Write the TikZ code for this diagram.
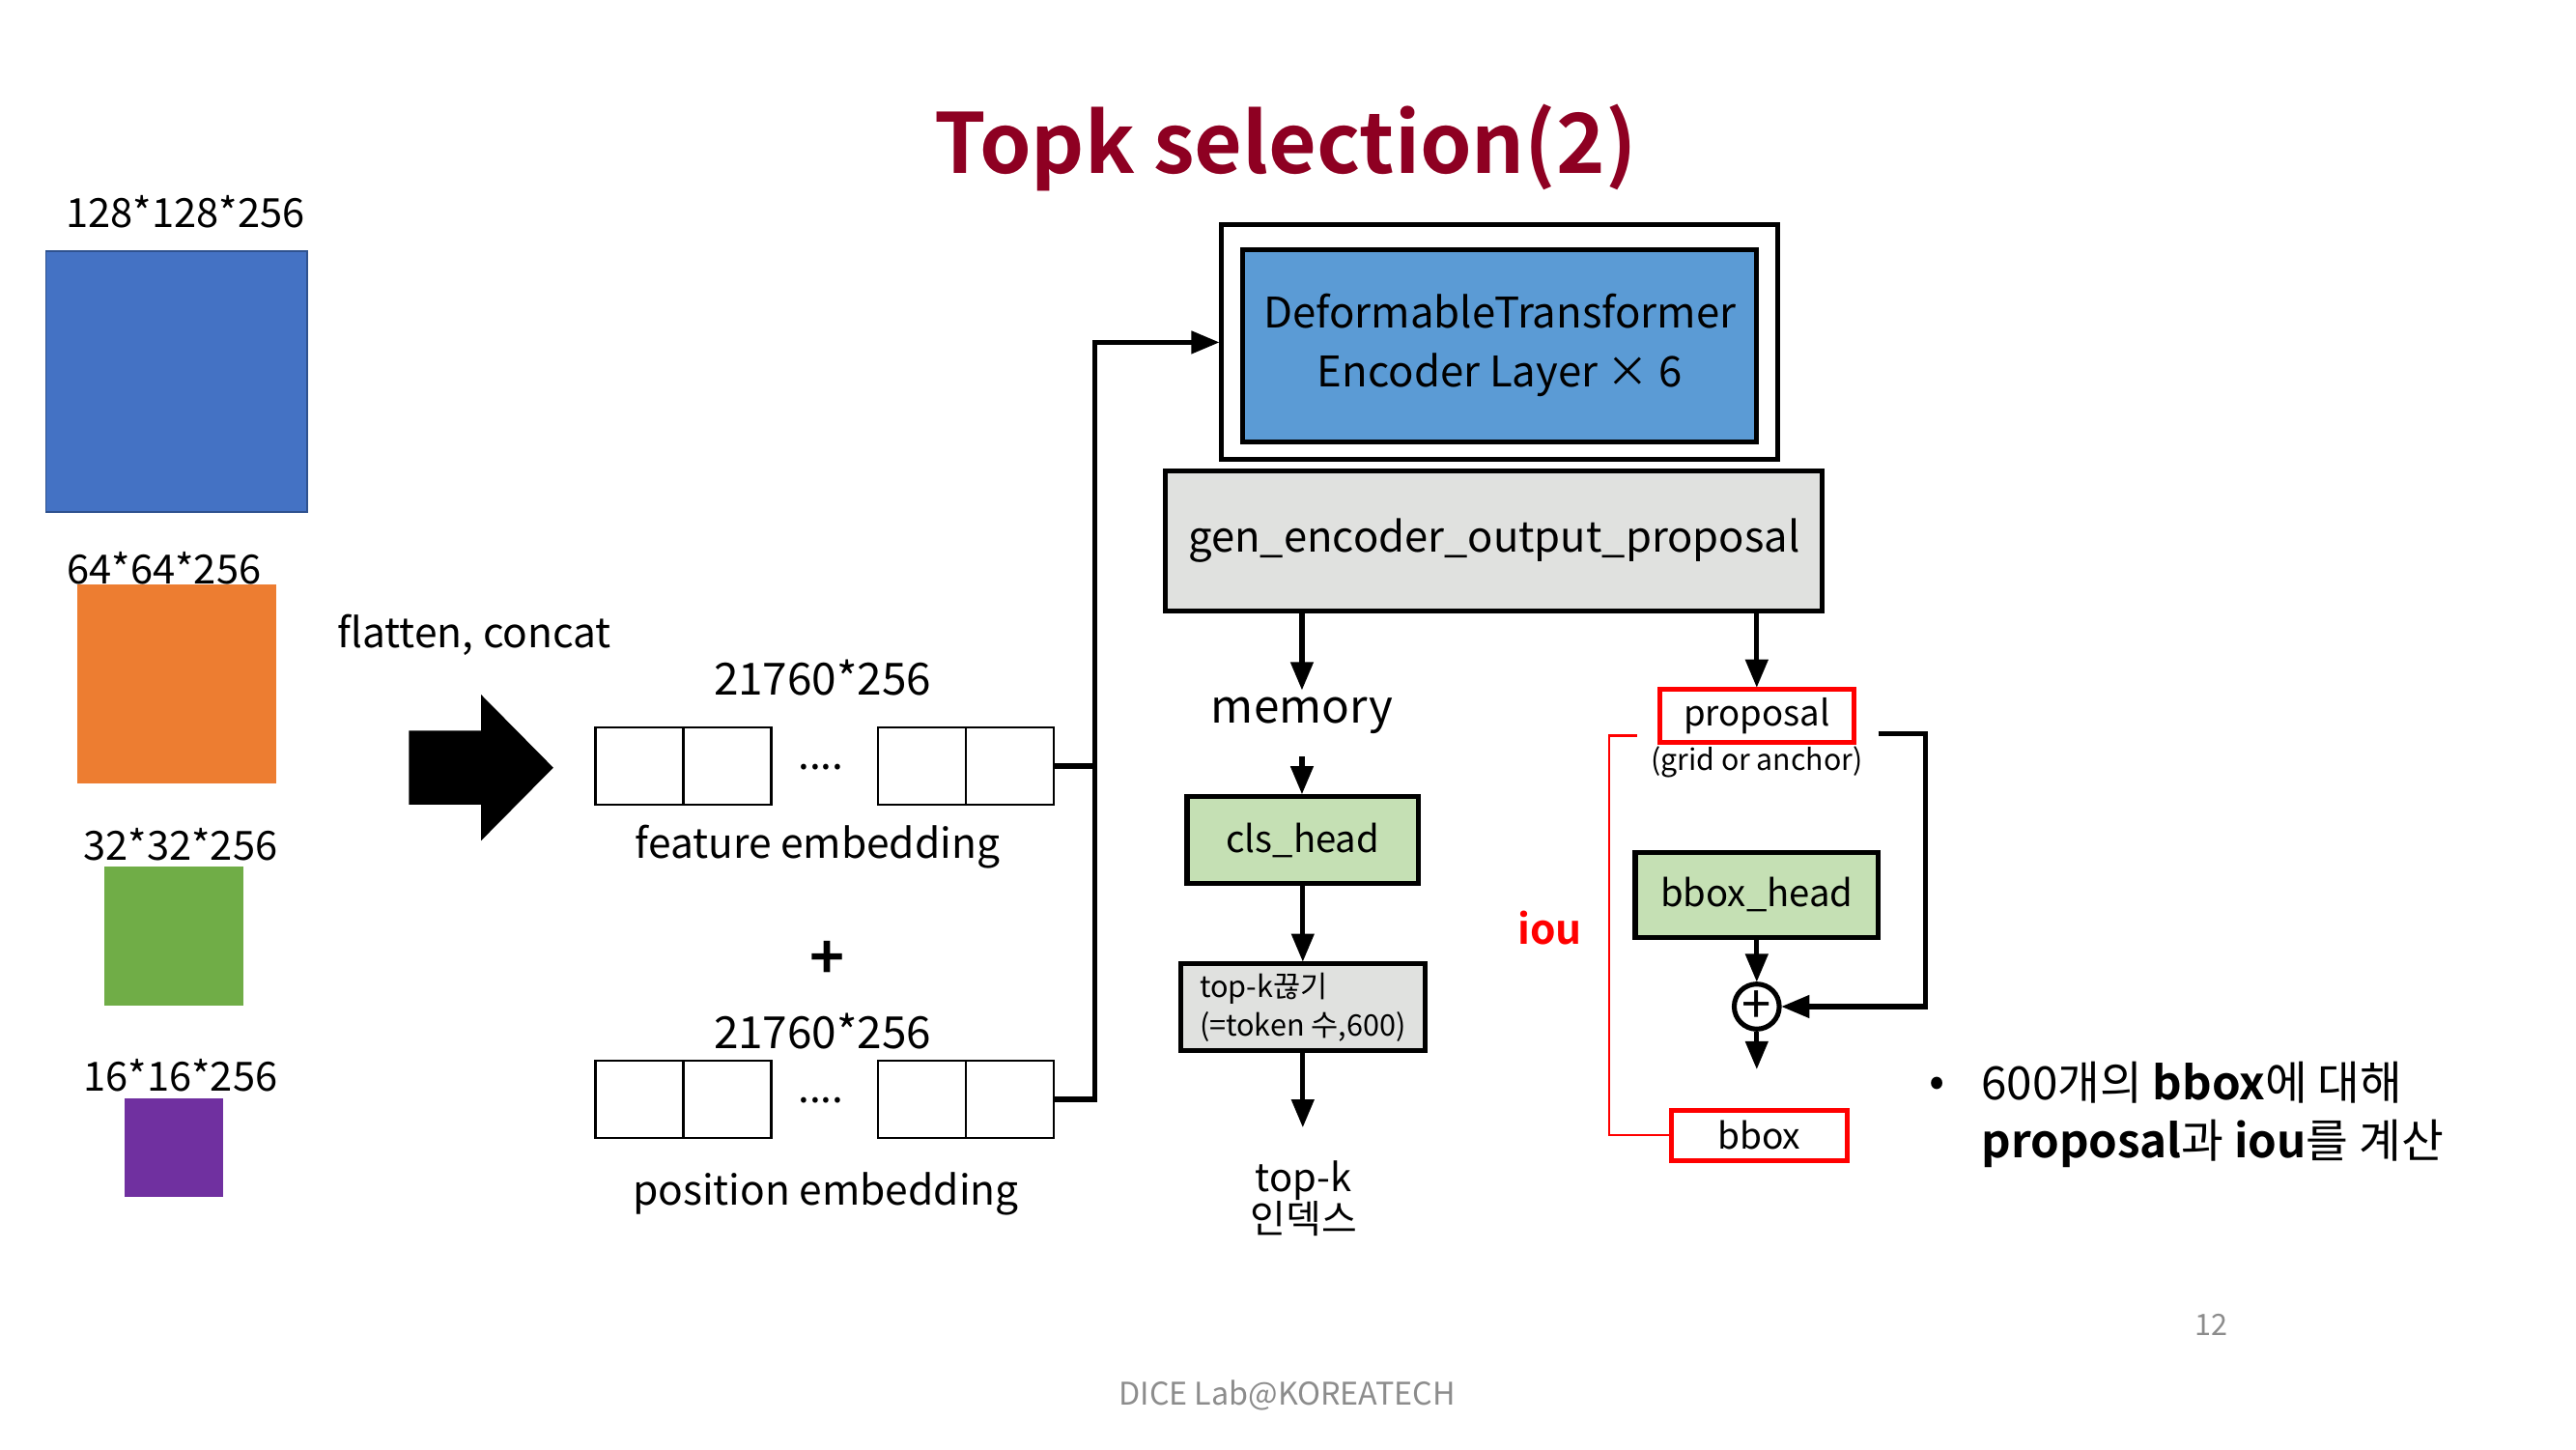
\documentclass[tikz,border=0pt]{standalone}
\usepackage{fontspec}
\setmainfont{Noto Sans CJK KR}[BoldFont={Noto Sans CJK KR Bold}]
\usetikzlibrary{arrows,positioning,calc}

\definecolor{titlered}{HTML}{8E0022}
\definecolor{mapblue}{HTML}{4472C4}
\definecolor{mapedge}{HTML}{2F528F}
\definecolor{maporange}{HTML}{ED7D31}
\definecolor{mapgreen}{HTML}{70AD47}
\definecolor{mappurple}{HTML}{7030A0}
\definecolor{encblue}{HTML}{5B9BD5}
\definecolor{headgreen}{HTML}{C5E0B4}
\definecolor{boxgray}{HTML}{E0E1DF}
\definecolor{footgray}{HTML}{8C8C8C}

\begin{document}
\begin{tikzpicture}[
        x=1pt, y=-1pt, >=triangle 45, line width=3pt
    ]

    \tikzstyle{block} = [rectangle,draw,line width=3pt,inner sep=0pt]
    \tikzstyle{cell} = [rectangle,draw,line width=1.6pt,minimum width=53.5pt,minimum height=47pt,outer sep=0pt]
    \tikzstyle{redbox} = [rectangle,draw=red,line width=3pt,inner sep=0pt]
    \tikzstyle{lbl} = [font=\fontsize{25}{30}\selectfont]
    \tikzstyle{flow} = [->,line width=3pt]

    \useasboundingbox (0,0) rectangle (1569,882.6);

    \node[font=\bfseries\fontsize{50.5}{56}\selectfont, text=titlered] (title) at (783,90) {Topk selection(2)};

    % feature maps
    \node[font=\fontsize{24.5}{30}\selectfont] (d1) at (113,129) {128*128*256};
    \node[fill=mapblue, draw=mapedge, line width=1pt, minimum size=159pt] (map1) at (107.5,232.5) {};
    \node[font=\fontsize{24.5}{30}\selectfont] (d2) at (100,346) {64*64*256};
    \node[fill=maporange, minimum size=121pt] (map2) at (107.5,416.5) {};
    \node[font=\fontsize{24.5}{30}\selectfont] (d3) at (110,514) {32*32*256};
    \node[fill=mapgreen, minimum size=85pt] (map3) at (106,570) {};
    \node[font=\fontsize{24.5}{30}\selectfont] (d4) at (110,655) {16*16*256};
    \node[fill=mappurple, minimum size=60pt] (map4) at (106,699) {};

    \node[lbl] (flat) at (289,387) {flatten, concat};
    \fill (249,445) -- (293,445) -- (293,423) -- (337,467.5) -- (293,512) -- (293,490) -- (249,490) -- cycle;

    % embeddings
    \node[font=\fontsize{27}{30}\selectfont] (fdim) at (501,413) {21760*256};
    \node[cell] (f1) at (389.5,466.5) {};
    \node[cell, right=0pt of f1] (f2) {};
    \node[cell] (f3) at (561.5,466.5) {};
    \node[cell, right=0pt of f3] (f4) {};
    \node[lbl] (fdots) at (500,467) {....};
    \node[lbl] (fname) at (498,516) {feature embedding};

    \node[font=\bfseries\fontsize{36}{36}\selectfont] (sum) at (504,585) {+};

    \node[font=\fontsize{27}{30}\selectfont] (pdim) at (501,628) {21760*256};
    \node[cell] (p1) at (389.5,669.5) {};
    \node[cell, right=0pt of p1] (p2) {};
    \node[cell] (p3) at (561.5,669.5) {};
    \node[cell, right=0pt of p3] (p4) {};
    \node[lbl] (pdots) at (500,670) {....};
    \node[lbl] (pname) at (503,727) {position embedding};

    % encoder
    \node[block, minimum width=339pt, minimum height=143pt] (enc) at (913.5,208.5) {};
    \node[block, fill=encblue, minimum width=313pt, minimum height=117pt, align=center,
          font=\fontsize{25.7}{36}\selectfont] (layer) at (913.5,210.5) {DeformableTransformer\\Encoder Layer × 6};
    \node[block, fill=boxgray, minimum width=400pt, minimum height=85pt,
          font=\fontsize{25.6}{30}\selectfont] (gen) at (910,329.5) {gen\_encoder\_output\_proposal};

    % left branch
    \node[font=\fontsize{28}{32}\selectfont] (mem) at (793,436) {memory};
    \node[block, fill=headgreen, minimum width=141pt, minimum height=53pt,
          font=\fontsize{22.5}{28}\selectfont] (cls) at (793.5,511.5) {cls\_head};
    \node[block, fill=boxgray, minimum width=149pt, minimum height=53pt, align=left,
          font=\fontsize{18}{24}\selectfont] (topk) at (793.5,613.5) {top-k끊기\\(=token 수,600)};
    \node[align=center, font=\fontsize{23.5}{25}\selectfont] (idx) at (794,730) {top-k\\인덱스};

    % right branch
    \node[redbox, minimum width=118pt, minimum height=32pt,
          font=\fontsize{21.5}{26}\selectfont] (prop) at (1070,436) {proposal};
    \node[font=\fontsize{17.8}{22}\selectfont] (grid) at (1070,464) {(grid or anchor)};
    \node[block, fill=headgreen, minimum width=148pt, minimum height=52pt,
          font=\fontsize{22.5}{28}\selectfont] (bhead) at (1070,545) {bbox\_head};
    \node[circle, draw, line width=3pt, minimum size=27pt, inner sep=0pt, text height=21pt, text depth=0pt,
          font=\fontsize{32}{32}\selectfont] (plus) at (1070,613) {+};
    \node[redbox, minimum width=107pt, minimum height=31pt,
          font=\fontsize{21.8}{26}\selectfont] (bbox) at (1071.5,691.5) {bbox};
    \node[text=red, font=\bfseries\fontsize{25}{30}\selectfont] (iou) at (944,565) {iou};

    \coordinate (pe) at (1144,447);
    \coordinate (ie) at (997,448);
    \coordinate (out) at (1070,651);

    % note
    \node[font=\fontsize{28}{35}\selectfont] (dot) at (1180,662) {•};
    \node[anchor=west, align=left, font=\fontsize{28}{35}\selectfont] (note) at (1202,679)
        {600개의 \textbf{bbox}에 대해\\\textbf{proposal}과 \textbf{iou}를 계산};

    \node[text=footgray, font=\fontsize{18}{22}\selectfont] (page) at (1347,807) {12};
    \node[text=footgray, font=\fontsize{19}{22}\selectfont] (foot) at (784,850) {DICE Lab@KOREATECH};

    % connectors
    \draw (f4.east) -- ++(25,0);
    \draw[flow] (p4.east) -- ++(25,0) |- (enc.west);
    \draw[flow] (gen.south -| mem) -- (mem.north);
    \draw[flow, shorten <=9pt] (mem.south) -- (mem.south |- cls.north);
    \draw[flow] (cls.south) -- (cls.south |- topk.north);
    \draw[flow, shorten >=16pt] (topk.south) -- (topk.south |- idx.north);
    \draw[flow] (gen.south -| prop) -- (prop.north);
    \draw[flow] (bhead.south) -- (plus.north);
    \draw[flow] (plus.south) -- (out);
    \draw[flow] (pe) -- ++(29,0) |- (plus.east);
    \draw[red, line width=1.2pt] (ie) -- ++(-17,0) |- (bbox.west);

\end{tikzpicture}
\end{document}
